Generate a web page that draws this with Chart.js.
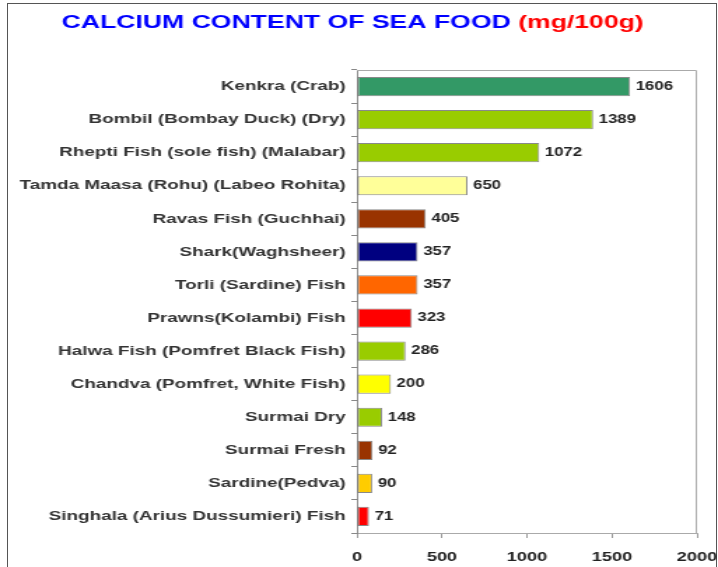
<!DOCTYPE html>
<html>
<head>
<meta charset="utf-8">
<script src="https://cdn.jsdelivr.net/npm/chart.js@4.4.1/dist/chart.umd.min.js"></script>
<style>
  body { margin: 0; background: #fff; overflow: hidden; }
  #frame { position: absolute; left: 7px; top: 3px; width: 708px; height: 620px; border: 1px solid #555; }
  #c { position: absolute; left: 0; top: 0; }
</style>
</head>
<body>
<div id="frame"></div>
<!-- the source picture is stretched sideways, so the canvas is drawn narrow and widened by css -->
<canvas id="c" width="513" height="567" style="width:718px;height:567px"></canvas>
<script>
var categories = [
  'Kenkra (Crab)',
  'Bombil (Bombay Duck) (Dry)',
  'Rhepti Fish (sole fish) (Malabar)',
  'Tamda Maasa (Rohu) (Labeo Rohita)',
  'Ravas Fish (Guchhai)',
  'Shark(Waghsheer)',
  'Torli (Sardine) Fish',
  'Prawns(Kolambi) Fish',
  'Halwa Fish (Pomfret Black Fish)',
  'Chandva (Pomfret, White Fish)',
  'Surmai Dry',
  'Surmai Fresh',
  'Sardine(Pedva)',
  'Singhala (Arius Dussumieri) Fish'
];
var calcium = [1606, 1389, 1072, 650, 405, 357, 357, 323, 286, 200, 148, 92, 90, 71];
var barColors = ['#339966', '#99cc00', '#99cc00', '#ffff99', '#993300', '#000080', '#ff6600',
                 '#ff0000', '#99cc00', '#ffff00', '#99cc00', '#993300', '#ffcc00', '#ff0000'];
var xTicks = [0, 500, 1000, 1500, 2000];

var titleMain = 'CALCIUM CONTENT OF SEA FOOD';
var titleUnit = '(mg/100g)';

var titlePlugin = {
  id: 'twoColourTitle',
  afterDraw: function (chart) {
    var ctx = chart.ctx;
    ctx.save();
    ctx.font = 'bold 19px "Liberation Sans", Arial, sans-serif';
    ctx.textBaseline = 'alphabetic';
    ctx.fillStyle = '#0000ff';
    ctx.fillText(titleMain, 44, 28);
    var w = ctx.measureText(titleMain + ' ').width;
    ctx.fillStyle = '#ff0000';
    ctx.fillText(titleUnit, 44 + w, 28);
    ctx.restore();
  }
};

var framePlugin = {
  id: 'plotFrame',
  afterDraw: function (chart) {
    var a = chart.chartArea, ctx = chart.ctx;
    ctx.save();
    ctx.strokeStyle = '#aaaaaa';
    ctx.lineWidth = 1;
    ctx.beginPath();
    ctx.moveTo(a.left, a.top + 0.5);
    ctx.lineTo(a.right - 0.5, a.top + 0.5);
    ctx.lineTo(a.right - 0.5, a.bottom);
    ctx.stroke();
    ctx.restore();
  }
};

var valuePlugin = {
  id: 'valueLabels',
  afterDatasetsDraw: function (chart) {
    var ctx = chart.ctx;
    var meta = chart.getDatasetMeta(0);
    ctx.save();
    ctx.font = 'bold 12px "Liberation Sans", Arial, sans-serif';
    ctx.fillStyle = '#222';
    ctx.textBaseline = 'middle';
    ctx.textAlign = 'left';
    meta.data.forEach(function (bar, i) {
      ctx.fillText(calcium[i], bar.x + 4, bar.y);
    });
    ctx.restore();
  }
};

new Chart('c', {
  type: 'bar',
  data: {
    labels: categories,
    datasets: [{
      data: calcium,
      backgroundColor: barColors,
      borderColor: 'rgba(40,40,40,0.55)',
      borderWidth: 1,
      borderSkipped: false,
      barPercentage: 0.58,
      categoryPercentage: 1
    }]
  },
  options: {
    indexAxis: 'y',
    responsive: false,
    animation: false,
    layout: { padding: { top: 70, right: 15, bottom: 0, left: 0 } },
    plugins: {
      legend: { display: false },
      tooltip: { enabled: false }
    },
    scales: {
      x: {
        min: 0,
        max: 2000,
        afterBuildTicks: function (scale) {
          scale.ticks = xTicks.map(function (v) { return { value: v }; });
        },
        afterFit: function (scale) {
          scale.height = 34;
          scale.paddingLeft = 0;
          scale.paddingRight = 0;
        },
        grid: { drawOnChartArea: false, tickLength: 5, color: '#999' },
        border: { color: '#aaa' },
        ticks: {
          padding: 12,
          color: '#222',
          callback: function (v) { return String(v); },
          font: { family: '"Liberation Sans", Arial, sans-serif', size: 13, weight: 'bold' }
        }
      },
      y: {
        afterFit: function (scale) { scale.width = 255; },
        grid: { drawOnChartArea: false, tickLength: 4, color: '#888' },
        border: { color: '#888' },
        ticks: {
          padding: 4,
          color: '#333',
          autoSkip: false,
          font: { family: '"Liberation Sans", Arial, sans-serif', size: 13.5, weight: 'bold' }
        }
      }
    }
  },
  plugins: [titlePlugin, framePlugin, valuePlugin]
});
</script>
</body>
</html>
